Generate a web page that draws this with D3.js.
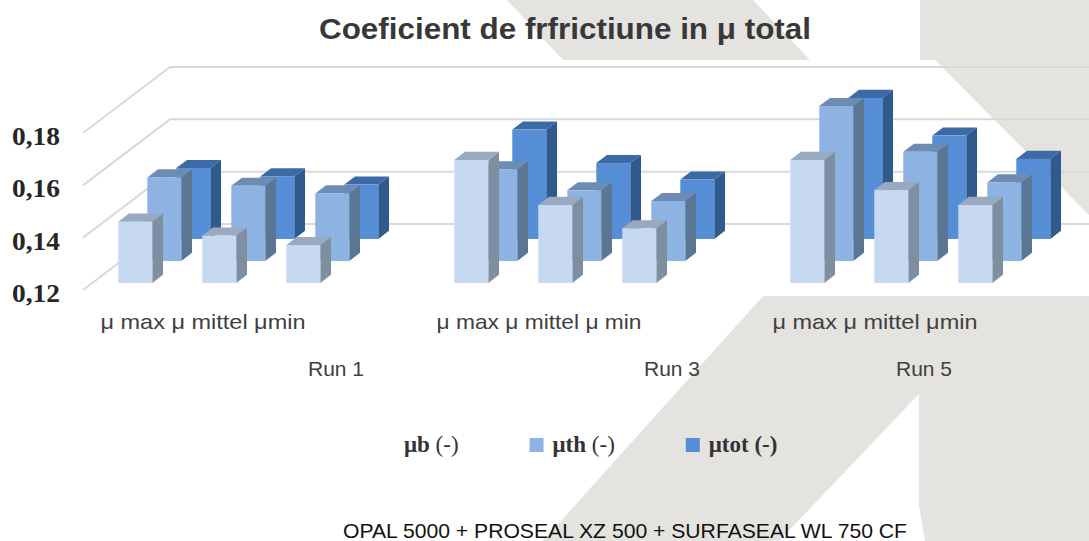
<!DOCTYPE html>
<html>
<head>
<meta charset="utf-8">
<script src="https://cdn.jsdelivr.net/npm/d3@7"></script>
<style>
  html, body { margin: 0; padding: 0; background: #ffffff; }
  svg { display: block; }
</style>
</head>
<body>
<svg id="chart" width="1089" height="541"></svg>
<script>
// ---------------- data ----------------
const runs = ["Run 1", "Run 3", "Run 5"];
const stats = ["μ max", "μ mittel", "μmin"];
const groupLabels = ["μ max μ mittel μmin", "μ max μ mittel μ min", "μ max μ mittel μmin"];
const seriesNames = ["μb", "μth", "μtot"];
const muB   = [0.1434, 0.1381, 0.1345, 0.1670, 0.1498, 0.1409, 0.1670, 0.1555, 0.1498];
const muTh  = [0.1519, 0.1487, 0.1458, 0.1550, 0.1470, 0.1429, 0.1792, 0.1617, 0.1500];
const muTot = [0.1471, 0.1439, 0.1408, 0.1618, 0.1490, 0.1427, 0.1739, 0.1595, 0.1506];
const yTicks = [0.12, 0.14, 0.16, 0.18];
const yTickLabels = ["0,12", "0,14", "0,16", "0,18"];
const titleText = "Coeficient de frfrictiune in μ total";
const footText = "OPAL 5000 + PROSEAL XZ 500 + SURFASEAL WL 750 CF";

// ---------------- layout ----------------
const svg = d3.select("#chart");
const W = 1089, H = 541;
const gray = "#E4E3E0";

// background watermark shapes
const bg = svg.append("g");
const bgShapes = [
  [[507,0],[753,0],[810,60],[563,60]],
  [[920,0],[1089,0],[1089,60],[920,60]],
  [[935,60],[1089,60],[1089,215]],
  [[763,296],[1089,296],[1089,541],[925,541],[919,505],[919,394],[779,541],[543,541]]
];
bg.selectAll("path").data(bgShapes).join("path")
  .attr("d", d => "M" + d.map(p => p.join(",")).join("L") + "Z")
  .attr("fill", gray);

// scales (front plane = depth 0)
const nSlots = 11;
const x = d3.scaleBand().domain(d3.range(nSlots)).range([84, 84 + 84 * nSlots])
  .paddingInner(50 / 84).paddingOuter(25 / 84);
const y = d3.scaleLinear().domain([0.12, 0.18]).range([290, 133]);
const depth = { dx: 87, dy: -66 };   // full depth of the 3D box
const nRows = 3;
const rowFront = 0.32, rowBack = 0.69; // bar position within each depth slot

const slotOf = i => Math.floor(i / 3) * 4 + (i % 3);
const slotCenter = k => x(0) + x.bandwidth() / 2 + k * x.step();

// gridlines: side wall diagonals and back wall horizontals
const grid = svg.append("g").attr("stroke", "#D9D9D9").attr("stroke-width", 2).attr("fill", "none");
const wallX0 = 83;
grid.selectAll("path").data(yTicks).join("path")
  .attr("d", v => `M${wallX0},${y(v)}L${wallX0 + depth.dx},${y(v) + depth.dy}L${W},${y(v) + depth.dy}`);

// y labels
svg.append("g").selectAll("text").data(yTicks).join("text")
  .attr("x", 12).attr("y", v => y(v) + 12)
  .attr("font-family", "Liberation Serif, Times New Roman, serif")
  .attr("font-weight", "bold").attr("font-size", 26)
  .attr("fill", "#262626")
  .attr("textLength", 48).attr("lengthAdjust", "spacingAndGlyphs")
  .text((v, i) => yTickLabels[i]);

// bars
const seriesVals = [muB, muTh, muTot];
const colors = [
  { front: "#C6D9F1", side: "#7F8FA2", top: "#98A9C0" },
  { front: "#8DB3E2", side: "#5B7695", top: "#6D8CB4" },
  { front: "#558ED5", side: "#30598C", top: "#3C6AA6" }
];
const bw = x.bandwidth();
const barsG = svg.append("g");
for (let s = nRows - 1; s >= 0; s--) {
  const f = (s + rowFront) / nRows, b = (s + rowBack) / nRows;
  const ox = depth.dx * f, oy = depth.dy * f;
  const bdx = depth.dx * (b - f), bdy = depth.dy * (b - f);
  const c = colors[s];
  const g = barsG.append("g");
  seriesVals[s].forEach((v, i) => {
    const xl = x(slotOf(i)) + ox, xr = xl + bw;
    const yt = y(v) + oy, yb = y(0.12) + oy;
    g.append("path").attr("fill", c.side)
      .attr("d", `M${xr},${yt}L${xr + bdx},${yt + bdy}L${xr + bdx},${yb + bdy}L${xr},${yb}Z`);
    g.append("path").attr("fill", c.top)
      .attr("d", `M${xl},${yt}L${xr},${yt}L${xr + bdx},${yt + bdy}L${xl + bdx},${yt + bdy}Z`);
    g.append("rect").attr("fill", c.front)
      .attr("x", xl).attr("y", yt).attr("width", bw).attr("height", yb - yt);
  });
}

// title
svg.append("text").attr("x", 565).attr("y", 39).attr("text-anchor", "middle")
  .attr("font-family", "Liberation Sans, Arial, sans-serif").attr("font-weight", "bold")
  .attr("font-size", 29).attr("fill", "#383838")
  .attr("textLength", 492).attr("lengthAdjust", "spacingAndGlyphs")
  .text(titleText);

// category group labels
const sans = "Liberation Sans, Arial, sans-serif";
svg.append("g").selectAll("text").data(groupLabels).join("text")
  .attr("x", (d, i) => slotCenter(i * 4 + 1) - 7).attr("y", 329)
  .attr("text-anchor", "middle").attr("font-family", sans).attr("font-size", 21)
  .attr("fill", "#404040")
  .attr("textLength", 205).attr("lengthAdjust", "spacingAndGlyphs")
  .text(d => d);

// run labels
const runLabelSlot = [2.5, 6.5, 9.5];
svg.append("g").selectAll("text").data(runs).join("text")
  .attr("x", (d, i) => slotCenter(runLabelSlot[i])).attr("y", 376)
  .attr("text-anchor", "middle").attr("font-family", sans).attr("font-size", 21)
  .attr("fill", "#404040")
  .text(d => d);

// legend
const serif = "Liberation Serif, Times New Roman, serif";
const legendParts = [
  [{ t: "μb", b: true }, { t: " (-)", b: false }],
  [{ t: "μth", b: true }, { t: " (-)", b: false }],
  [{ t: "μtot (-)", b: true }]
];
const legendSwatch = ["#FFFFFF", colors[1].front, colors[2].front];
const leg = svg.append("g");
let lx = 381;
legendParts.forEach((parts, i) => {
  leg.append("rect").attr("x", lx).attr("y", 438).attr("width", 14).attr("height", 14)
    .attr("fill", legendSwatch[i]);
  const t = leg.append("text").attr("x", lx + 23).attr("y", 452)
    .attr("font-family", serif).attr("font-size", 23).attr("fill", "#333333");
  parts.forEach(p => t.append("tspan").attr("font-weight", p.b ? "bold" : "normal").text(p.t));
  lx += 23 + t.node().getComputedTextLength() + 71;
});

// footer
svg.append("text").attr("x", 625).attr("y", 538).attr("text-anchor", "middle")
  .attr("font-family", sans).attr("font-size", 21).attr("fill", "#111111")
  .attr("textLength", 564).attr("lengthAdjust", "spacingAndGlyphs")
  .text(footText);
</script>
</body>
</html>
